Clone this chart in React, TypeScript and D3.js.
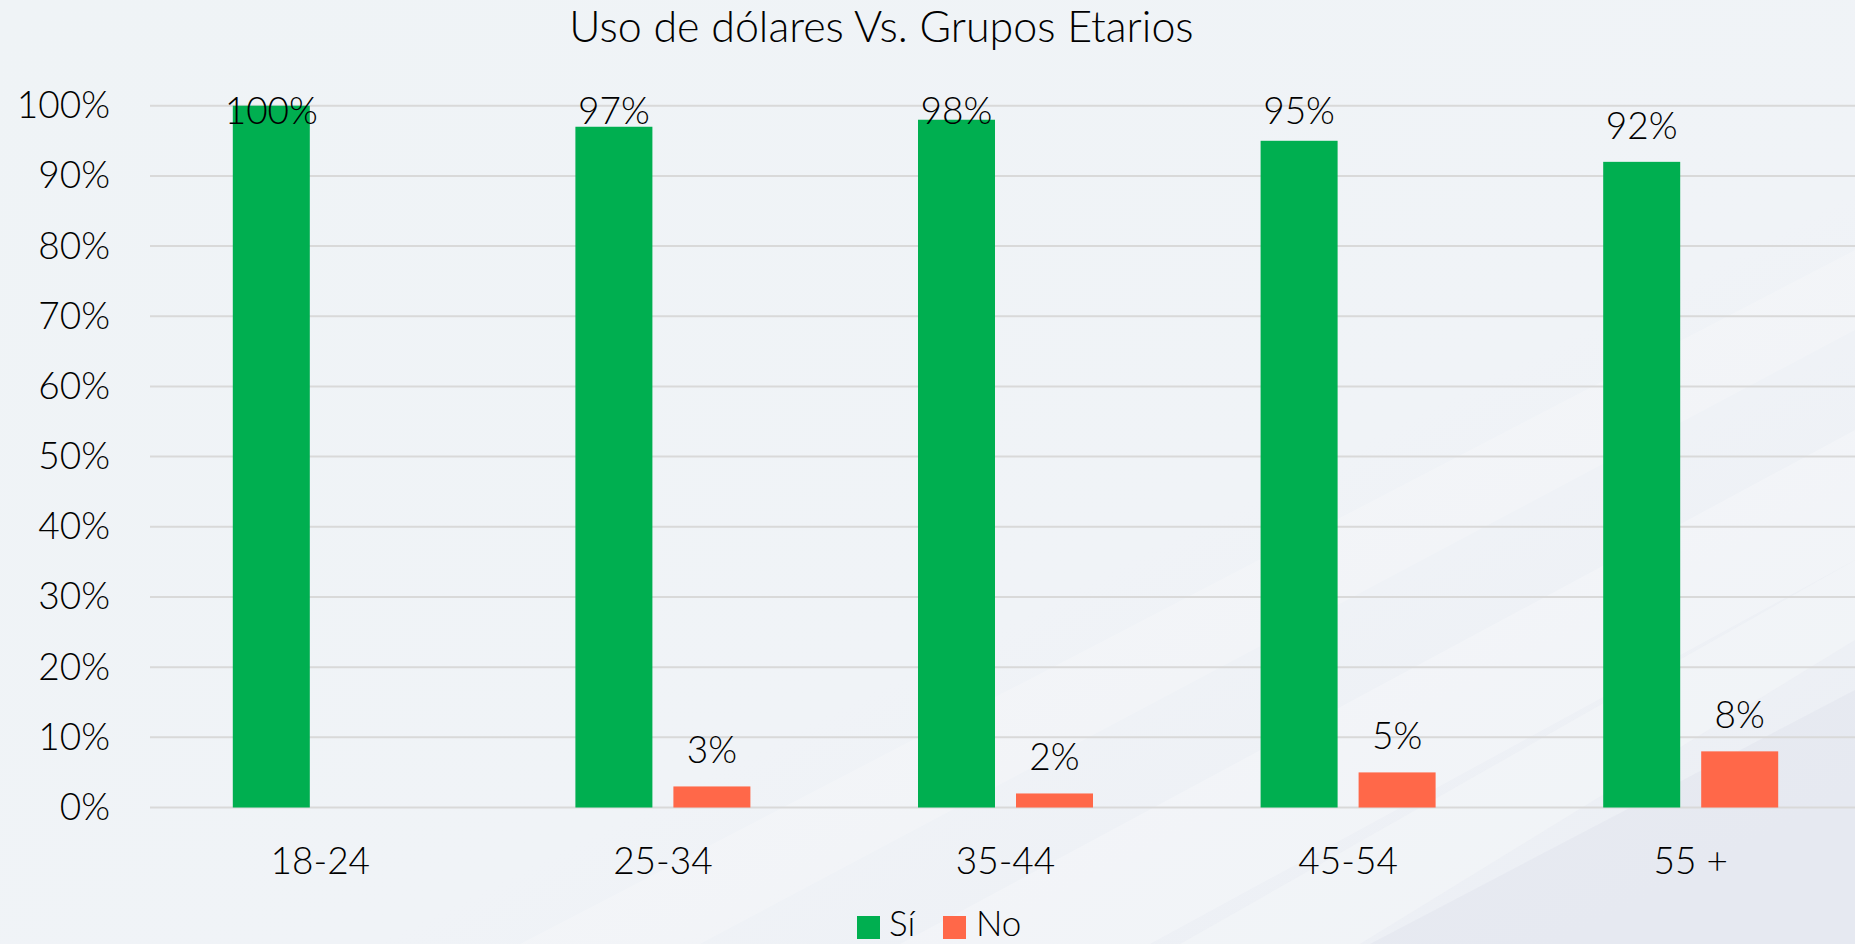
import React from "react";
import * as d3 from "d3";

const title = "Uso de dólares Vs. Grupos Etarios";
const categories = ["18-24", "25-34", "35-44", "45-54", "55 +"];
const siValues = [1.0, 0.97, 0.98, 0.95, 0.92];
const noValues = [0, 0.03, 0.02, 0.05, 0.08];
const yTicks = [0, 0.1, 0.2, 0.3, 0.4, 0.5, 0.6, 0.7, 0.8, 0.9, 1.0];
const seriesNames = ["Sí", "No"];
const seriesColors = ["#00AF50", "#FF6849"];

const W = 1855;
const H = 944;
const FONT = "Lato, 'Open Sans', sans-serif";
const WEIGHT = 300;

export default function App() {
  const x = d3.scaleBand<string>().domain(categories).range([149, 1862]);
  const y = d3.scaleLinear().domain([0, 1]).range([807.5, 105.7]);
  const barW = 77;
  const gap = 21;
  const pct = d3.format(".0%");

  const series = [siValues, noValues];

  return (
    <svg
      width={W}
      height={H}
      style={{ position: "absolute", left: 0, top: 0, display: "block" }}
    >
      <defs>
        <linearGradient id="bg" x1="0" y1="0" x2="1" y2="1">
          <stop offset="0" stopColor="#EFF3F6" />
          <stop offset="0.6" stopColor="#F0F3F7" />
          <stop offset="1" stopColor="#EBEEF4" />
        </linearGradient>
      </defs>
      <rect x={0} y={0} width={W} height={H} fill="url(#bg)" />
      {/* subtle diagonal background stripes */}
      <polygon points={`520,944 1855,250 1855,330 700,944`} fill="#ffffff" opacity={0.2} />
      <polygon points={`900,944 1855,430 1855,560 1150,944`} fill="#ffffff" opacity={0.25} />
      <polygon points={`1370,944 1855,690 1855,944`} fill="#E4E7EF" opacity={0.7} />
      <polygon points={`1180,944 1855,560 1855,640 1360,944`} fill="#F5F7FA" opacity={0.5} />

      {/* title */}
      <text
        x={881.5}
        y={42}
        textAnchor="middle"
        fontFamily={FONT}
        fontWeight={WEIGHT}
        fontSize={43}
        fill="#000"
      >
        {title}
      </text>

      {/* gridlines */}
      {yTicks.map((t) => (
        <line
          key={t}
          x1={150}
          x2={W}
          y1={y(t)}
          y2={y(t)}
          stroke="#D9D9D9"
          strokeWidth={2}
        />
      ))}

      {/* y labels */}
      {yTicks.map((t) => (
        <text
          key={t}
          x={110}
          y={y(t) + 12.5}
          textAnchor="end"
          fontFamily={FONT}
          fontWeight={WEIGHT}
          fontSize={37}
          fill="#000"
        >
          {pct(t)}
        </text>
      ))}

      {/* bars */}
      {categories.map((c, i) => {
        const cx = (x(c) as number) + x.bandwidth() / 2;
        return series.map((vals, s) => {
          const v = vals[i];
          const bx = s === 0 ? cx - gap / 2 - barW : cx + gap / 2;
          const top = y(v);
          return (
            <rect
              key={`${c}-${s}`}
              x={bx}
              y={top}
              width={barW}
              height={y(0) - top}
              fill={seriesColors[s]}
            />
          );
        });
      })}

      {/* data labels */}
      {categories.map((c, i) => {
        const cx = (x(c) as number) + x.bandwidth() / 2;
        return series.map((vals, s) => {
          const v = vals[i];
          if (v === 0) return null;
          const bx = s === 0 ? cx - gap / 2 - barW : cx + gap / 2;
          const baseline = Math.max(y(v) - 23, 124);
          return (
            <text
              key={`l-${c}-${s}`}
              x={bx + barW / 2}
              y={baseline}
              textAnchor="middle"
              fontFamily={FONT}
              fontWeight={WEIGHT}
              fontSize={37}
              fill="#000"
            >
              {pct(v)}
            </text>
          );
        });
      })}

      {/* x labels */}
      {categories.map((c) => (
        <text
          key={c}
          x={(x(c) as number) + x.bandwidth() / 2}
          y={874}
          textAnchor="middle"
          fontFamily={FONT}
          fontWeight={WEIGHT}
          fontSize={37}
          fill="#000"
        >
          {c}
        </text>
      ))}

      {/* legend */}
      <rect x={857} y={916} width={23} height={23} fill={seriesColors[0]} />
      <text x={889} y={936} fontFamily={FONT} fontWeight={WEIGHT} fontSize={35} fill="#000">
        {seriesNames[0]}
      </text>
      <rect x={943} y={916} width={23} height={23} fill={seriesColors[1]} />
      <text x={976} y={936} fontFamily={FONT} fontWeight={WEIGHT} fontSize={35} fill="#000">
        {seriesNames[1]}
      </text>
    </svg>
  );
}
